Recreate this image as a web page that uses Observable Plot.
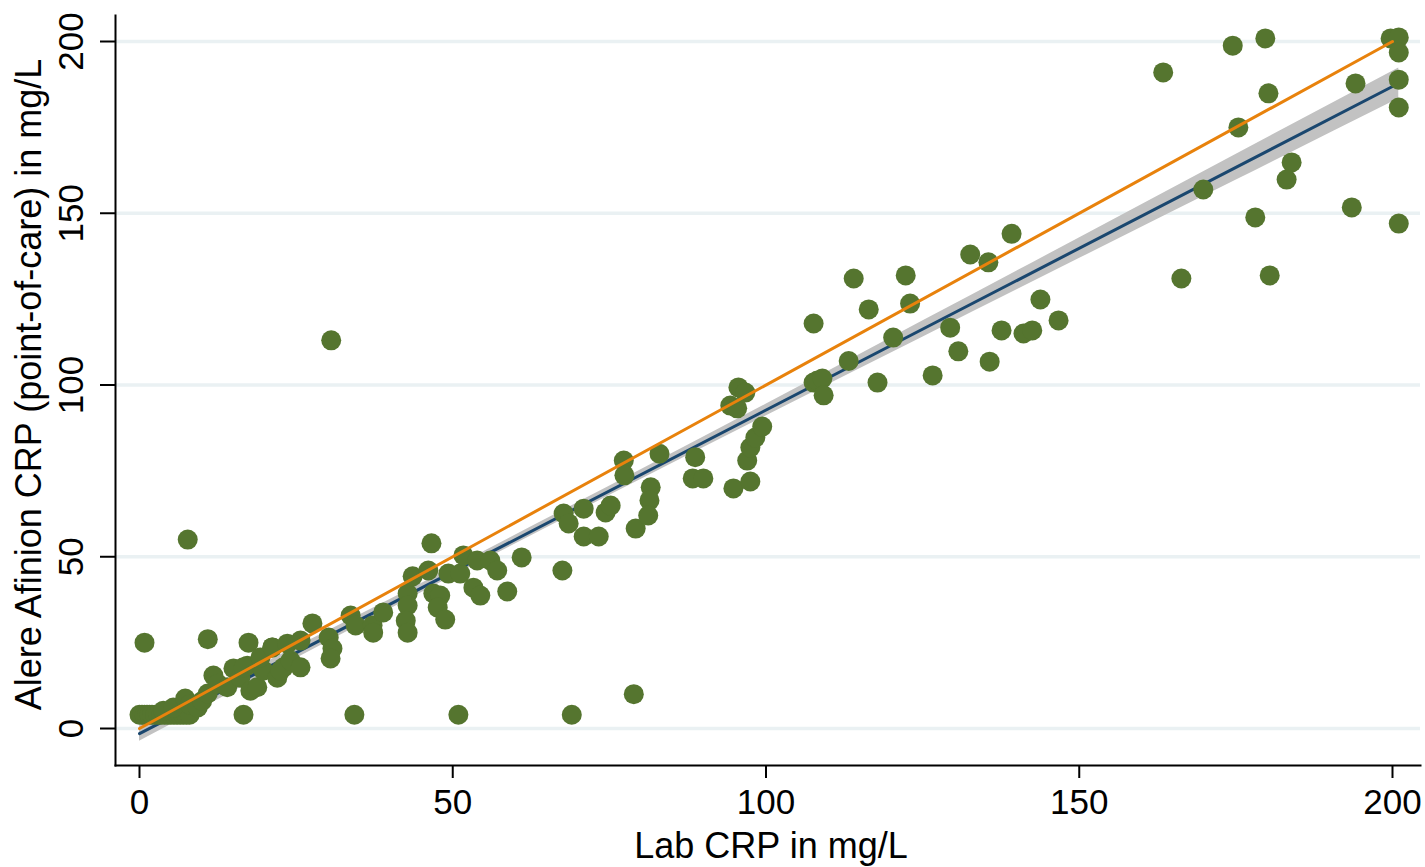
<!DOCTYPE html>
<html><head><meta charset="utf-8">
<script src="https://cdn.jsdelivr.net/npm/d3@7"></script>
<script src="https://cdn.jsdelivr.net/npm/@observablehq/plot@0.6"></script>
<style>body{margin:0;background:#fff;}</style>
</head><body><div id="chart"></div>
<script>
const labCRP = [
  0,0.4,0.8,1.2,1.6,2,2.5,3,3.5,4,4.5,5,5.5,6,6.5,7,7.5,8,
  3.8,5.4,7.3,8,9.3,10,10.9,11.8,12.5,14,15,16.1,17.2,17.7,18.8,19.8,21.2,22,23,
  0.8,7.7,10.9,17.4,16.6,30.6,34.3,50.9,69,78.9,
  19.3,16.6,21.2,22.5,23.6,24.1,25.7,25.7,27.6,30.2,30.8,30.5,33.7,34.5,37.2,37.3,38.9,
  42.8,42.8,42.5,42.8,43.6,46.1,46.6,46.9,48,47.6,48.8,49.3,51.2,51.7,53.9,56,57.1,53.3,54.4,58.7,61,67.5,
  67.7,68.5,70.9,70.9,73.3,74.4,75.2,79.2,77.3,77.4,83,81.6,81.4,81.2,88.7,88.3,90,94.8,97.5,97,97.5,98.3,99.4,94.3,95.4,95.6,96.7,
  107.6,108.2,109,109.2,113.2,114,117.8,116.4,122.3,123,120.3,132.6,135.5,139.2,129.4,130.7,126.6,135.7,137.6,141.1,142.5,143.8,146.7,107.6,
  163.4,174.5,179.7,180.2,175.4,169.8,183.9,183.1,178.1,193.5,201,166.3,180.4,194.1,199.7,201,201,201,201
];
const afinionCRP = [
  4,4,4,4,4,4,4,4,4,4,4,4,4,4,4,4,4,4,
  5.2,6.1,8.7,7,6.1,8,10.2,15.4,13,12,17.5,14.8,18.3,11,12,16.9,23.6,14.8,17.8,
  25,55,26,25,4,113,4,4,4,10,
  20.7,17.8,23.6,16.9,24.7,19.8,25.6,17.8,30.6,26.5,23.3,20.4,32.9,30,30,27.9,33.8,
  39.3,35.8,31.4,27.9,44.3,46,53.9,39.3,38.7,35.2,31.7,45.1,45.1,50.4,48.9,48.9,46,41,38.7,39.9,49.8,46,
  62.6,59.7,64,55.9,55.9,62.9,64.9,58.2,78,73.7,80,70.2,66.4,62,79,72.8,72.8,69.9,71.9,78,81.8,84.7,87.9,94,93.2,99.3,97.8,
  100.7,101.3,101.9,97,107,131,100.7,122,131.9,123.7,113.8,138,135.7,144,116.7,109.8,102.8,106.8,115.9,115,115.9,124.9,118.8,117.9,
  191,198.8,200.9,184.9,175,156.9,164.8,159.8,148.8,151.7,147,131,131.9,187.8,200.9,201.2,196.8,188.9,180.8
];
// fitted line and its 95% CI band
const fitX = [0, 200];
const fitY = [-1.5, 186.9];
const bandX  = [0, 25, 50, 75, 100, 125, 150, 175, 201];
const bandLo = [-3.7, 20.4, 44.3, 67.8, 91.0, 113.9, 136.8, 159.6, 183.3];
const bandHi = [0.7, 23.7, 46.9, 70.5, 94.4, 118.6, 142.8, 167.1, 192.3];
// line of identity
const identityX = [0, 200];
const identityY = [0, 200];
const xTicks = [0, 50, 100, 150, 200];
const yTicks = [0, 50, 100, 150, 200];
const xLabel = "Lab CRP in mg/L";
const yLabel = "Alere Afinion CRP (point-of-care) in mg/L";

const points = labCRP.map((x, i) => ({x, y: afinionCRP[i]}));
const fit = fitX.map((x, i) => ({x, y: fitY[i]}));
const band = bandX.map((x, i) => ({x, lo: bandLo[i], hi: bandHi[i]}));
const identity = identityX.map((x, i) => ({x, y: identityY[i]}));
const font = "'Liberation Sans', Arial, Helvetica, sans-serif";
const tickFs = 35;
const labelFs = 36;

const chart = Plot.plot({
  width: 1425, height: 867,
  marginLeft: 115, marginRight: 5, marginTop: 15, marginBottom: 102,
  style: {fontFamily: font, fontSize: labelFs + "px", background: "#fff", color: "#000"},
  x: {domain: [-3.83, 204.47]},
  y: {domain: [-10.77, 207.57]},
  marks: [
    Plot.gridY(yTicks, {stroke: "#eaf1f3", strokeOpacity: 1, strokeWidth: 3.5}),
    Plot.areaY(band, {x: "x", y1: "lo", y2: "hi", fill: "#c2c2c2", curve: "monotone-x"}),
    Plot.line(fit, {x: "x", y: "y", stroke: "#1a476f", strokeWidth: 3}),
    Plot.dot(points, {x: "x", y: "y", r: 10, fill: "#55752f"}),
    Plot.line(identity, {x: "x", y: "y", stroke: "#e8820c", strokeWidth: 3}),
    Plot.axisX(xTicks, {tickSize: 13, tickPadding: 11, strokeWidth: 2, label: null, fontSize: tickFs}),
    Plot.axisY(yTicks, {tickSize: 15, strokeWidth: 2, label: null, tickFormat: () => ""}),
    Plot.text(yTicks, {y: d => d, text: d => String(d), frameAnchor: "left", dx: -43.5, rotate: -90, lineAnchor: "middle", textAnchor: "middle", fontSize: tickFs}),
    Plot.frame({anchor: "left", strokeWidth: 2}),
    Plot.frame({anchor: "bottom", strokeWidth: 2}),
    Plot.text([xLabel], {frameAnchor: "bottom", dy: 80.5, dx: 3, lineAnchor: "middle", textAnchor: "middle", fontSize: labelFs}),
    Plot.text([yLabel], {frameAnchor: "left", dx: -86, dy: -6, rotate: -90, lineAnchor: "middle", textAnchor: "middle", fontSize: labelFs})
  ]
});
document.getElementById("chart").append(chart);
</script>
</body></html>
